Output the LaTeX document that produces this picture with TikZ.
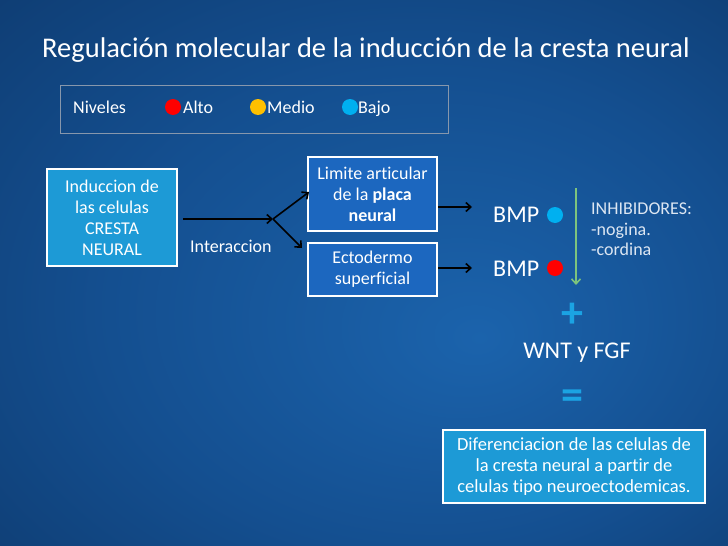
\documentclass[tikz,border=0pt]{standalone}
\usepackage{fontspec}
\setmainfont{Carlito}[Ligatures=NoCommon]
\usetikzlibrary{arrows.meta}

\definecolor{bgcenter}{HTML}{1B63AC}
\definecolor{bgmid}{HTML}{144F90}
\definecolor{bgedge}{HTML}{0B3160}
\definecolor{cyanbox}{HTML}{1D9AD6}
\definecolor{bluebox}{HTML}{1C67BF}
\definecolor{legendline}{HTML}{8797AC}
\definecolor{dotred}{HTML}{FF0000}
\definecolor{dotyellow}{HTML}{FFC000}
\definecolor{dotblue}{HTML}{00B0F0}
\definecolor{signblue}{HTML}{1BA3E3}
\definecolor{arrowgreen}{HTML}{7DC47D}
\definecolor{softwhite}{HTML}{DCE6F2}

\pgfdeclareradialshading{slidebg}{\pgfpoint{8bp}{-6bp}}{color(0bp)=(bgcenter); color(22bp)=(bgmid); color(50bp)=(bgedge)}

\begin{document}
\begin{tikzpicture}[x=1pt,y=-1pt,
		txt/.style={text=white,font=\fontsize{18}{21}\selectfont,align=center,inner sep=0pt},
		cyanbox/.style={txt,draw=white,line width=2pt,fill=cyanbox},
		bluebox/.style={txt,draw=white,line width=2pt,fill=bluebox},
		arr/.style={-{Straight Barb[length=5pt,width=9pt,line width=1.6pt]},line width=1.6pt,black},
		greenarr/.style={-{Straight Barb[length=5pt,width=9pt,line width=1.6pt]},line width=1.6pt,arrowgreen}]
		% Background
		\useasboundingbox (0,0) rectangle (728,546);
		\shade[shading=slidebg] (0,0) rectangle (728,546);
		
		% Title
		\node[txt,anchor=base west,font=\fontsize{28.5}{32}\selectfont] (title) at (42,57) {Regulación molecular de la inducción de la cresta neural};
		
		% Legend
		\draw[legendline,line width=1pt] (60,85) rectangle (448,133);
		\node[txt,anchor=base west] (niveles) at (73,113) {Niveles};
		\fill[dotred] (173,107) circle (8);
		\node[txt,anchor=base west] (alto) at (183,113) {Alto};
		\fill[dotyellow] (258,107) circle (8);
		\node[txt,anchor=base west] (medio) at (267,113) {Medio};
		\fill[dotblue] (350,107) circle (8);
		\node[txt,anchor=base west] (bajo) at (358,113) {Bajo};
		
		% Boxes
		\node[cyanbox,minimum width=130,minimum height=97] (induccion) at (112,217.5) {Induccion de\\las celulas\\CRESTA\\NEURAL};
		\node[bluebox,minimum width=129,minimum height=74] (limite) at (372.5,194) {Limite articular\\de la \textbf{placa}\\\textbf{neural}};
		\node[bluebox,minimum width=129,minimum height=53] (ecto) at (372.5,269.5) {Ectodermo\\superficial};
		\node[cyanbox,minimum width=262,minimum height=73,font=\fontsize{18.5}{21}\selectfont] (dif) at (574,466.5) {Diferenciacion de las celulas de\\la cresta neural a partir de\\celulas tipo neuroectodemicas.};
		
		% Points
		\coordinate (split) at (273,219);
		\coordinate (uptip) at (309,192);
		\coordinate (lowtip) at (302,248);
		\coordinate (bmpAin) at (472,207);
		\coordinate (bmpBin) at (472,268);
		\coordinate (gtop) at (576,188);
		\coordinate (gbot) at (576,285);
		
		% Labels
		\node[txt,anchor=base west] (inter) at (190,252) {Interaccion};
		\node[txt,anchor=base west,font=\fontsize{24}{28}\selectfont] (bmpA) at (493,222) {BMP};
		\node[txt,anchor=base west,font=\fontsize{24}{28}\selectfont] (bmpB) at (493,276) {BMP};
		\fill[dotblue] (555,215) circle (8);
		\fill[dotred] (555,268) circle (8);
		\node[txt,anchor=north west,align=left,text=softwhite,font=\fontsize{18}{20.5}\selectfont] (inhib) at (591,203) {INHIBIDORES:\\-nogina.\\-cordina};
		\node[txt,text=signblue,font=\fontsize{44}{44}\bfseries] (plus) at (572,315) {+};
		\node[txt,font=\fontsize{24}{28}\selectfont] (wnt) at (577,353) {WNT y FGF};
		\node[txt,text=signblue,font=\fontsize{44}{44}\bfseries] (equal) at (572,400) {=};
		
		% Arrows
		\draw[arr,shorten <=5pt] (induccion.east |- split) -- (split);
		\draw[arr] (split) -- (uptip);
		\draw[arr] (split) -- (lowtip);
		\draw[arr] (limite.east |- bmpAin) -- (bmpAin);
		\draw[arr] (ecto.east |- bmpBin) -- (bmpBin);
		\draw[greenarr] (gtop) -- (gbot);
		
	\end{tikzpicture}
\end{document}
